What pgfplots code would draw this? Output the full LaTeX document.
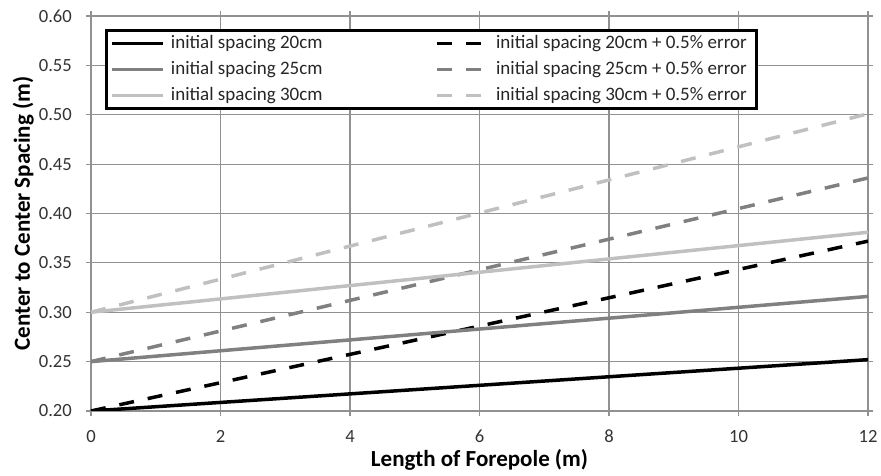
\documentclass[border=0pt]{standalone}
\usepackage{pgfplots}
\pgfplotsset{compat=1.18}
\usepackage{fontspec}
\setmainfont{Carlito}
\definecolor{midgray}{RGB}{128,128,128}
\definecolor{lightgray}{RGB}{192,192,192}
\definecolor{gridgray}{RGB}{145,145,145}
\begin{document}
\begin{tikzpicture}
\begin{axis}[
    scale only axis,
    width=777pt, height=395pt,
    xmin=0, xmax=12, ymin=0.2, ymax=0.6,
    xtick={0,2,...,12}, ytick={0.2,0.25,...,0.6},
    yticklabel style={/pgf/number format/fixed, /pgf/number format/fixed zerofill,
        /pgf/number format/precision=2, xshift=-13pt},
    /pgf/number format/assume math mode=true,
    tick label style={font=\fontsize{18.6}{18.6}\selectfont, text=black!80, inner sep=1pt},
    xticklabel style={yshift=-13pt},
    tick align=outside, major tick length=5pt,
    tick style={gridgray, line width=1.2pt},
    grid=major, major grid style={gridgray, line width=1.2pt},
    axis line style={gridgray, line width=1.2pt},
    xlabel={\textbf{Length of Forepole (m)}},
    ylabel={\textbf{Center to Center Spacing (m)}},
    label style={font=\fontsize{23}{23}\selectfont},
    xlabel style={at={(rel axis cs:0.5,0)}, anchor=base, yshift=-56pt},
    ylabel style={at={([xshift=-61pt]rel axis cs:0,0.5)}, anchor=base},
    legend columns=2,
    legend cell align=left,
    legend style={at={(0.018,0.967)}, anchor=north west, draw=black, line width=3pt,
        font=\fontsize{19}{19}\selectfont, inner xsep=4pt, inner ysep=0pt,
        nodes={inner xsep=6pt, inner ysep=4pt, text height=13.5pt, text depth=4.5pt, text=black!85},
        /tikz/every even column/.append style={column sep=107pt}},
    legend image code/.code={\draw[#1, line width=3.5pt] (0pt,0pt) -- (51pt,0pt);},
    every axis plot/.append style={line width=3.5pt},
]
\addplot[black] coordinates {(0,0.200) (12,0.252)};
\addlegendentry{initial spacing 20cm}
\addplot[black, dash pattern=on 15pt off 14pt] coordinates {(0,0.200) (12,0.372)};
\addlegendentry{initial spacing 20cm + 0.5\% error}
\addplot[midgray] coordinates {(0,0.250) (12,0.316)};
\addlegendentry{initial spacing 25cm}
\addplot[midgray, dash pattern=on 15pt off 14pt] coordinates {(0,0.250) (12,0.436)};
\addlegendentry{initial spacing 25cm + 0.5\% error}
\addplot[lightgray] coordinates {(0,0.300) (12,0.381)};
\addlegendentry{initial spacing 30cm}
\addplot[lightgray, dash pattern=on 15pt off 14pt] coordinates {(0,0.300) (12,0.501)};
\addlegendentry{initial spacing 30cm + 0.5\% error}
\end{axis}
\path ([shift={(-91pt,-65pt)}]current axis.south west) rectangle ([shift={(13pt,16pt)}]current axis.north east);
\end{tikzpicture}
\end{document}
